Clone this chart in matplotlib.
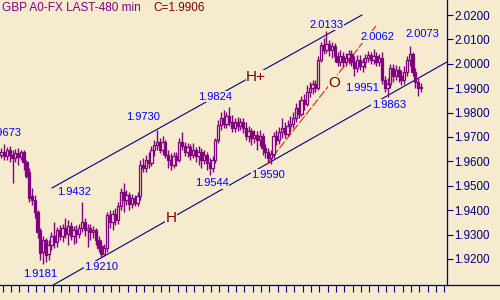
import matplotlib
matplotlib.use('Agg')
import matplotlib.pyplot as plt
from matplotlib.patches import Rectangle
from matplotlib.lines import Line2D

plt.rcParams['font.family'] = ['Liberation Sans', 'DejaVu Sans']

# Colours of the old charting package
bg = '#f6eacf'
purple = '#800080'
navy = '#000080'
blue = '#0000ff'
darkred = '#800000'

title = 'GBP A0-FX LAST-480 min'
last_txt = 'C=1.9906'

# 480 min bars, oldest first
opens = [1.9627, 1.9639, 1.9622, 1.9647, 1.9627, 1.9614, 1.9635, 1.9618, 1.9639, 1.9598,
         1.9557, 1.9458, 1.9442, 1.9393, 1.9319, 1.9229, 1.9278, 1.9221, 1.9258, 1.9294,
         1.9270, 1.9319, 1.9294, 1.9327, 1.9303, 1.9335, 1.9294, 1.9319, 1.9303, 1.9327,
         1.9352, 1.9319, 1.9327, 1.9311, 1.9319, 1.9278, 1.9253, 1.9221, 1.9245, 1.9381,
         1.9352, 1.9385, 1.9360, 1.9417, 1.9475, 1.9442, 1.9462, 1.9426, 1.9450, 1.9430,
         1.9458, 1.9585, 1.9573, 1.9606, 1.9594, 1.9647, 1.9667, 1.9680, 1.9647, 1.9680,
         1.9627, 1.9606, 1.9585, 1.9622, 1.9606, 1.9680, 1.9663, 1.9639, 1.9659, 1.9627,
         1.9647, 1.9622, 1.9639, 1.9606, 1.9627, 1.9594, 1.9573, 1.9606, 1.9688, 1.9750,
         1.9778, 1.9754, 1.9786, 1.9762, 1.9737, 1.9762, 1.9745, 1.9762, 1.9737, 1.9704,
         1.9725, 1.9696, 1.9709, 1.9688, 1.9704, 1.9655, 1.9639, 1.9614, 1.9631, 1.9704,
         1.9688, 1.9721, 1.9737, 1.9713, 1.9745, 1.9754, 1.9778, 1.9819, 1.9795, 1.9852,
         1.9836, 1.9885, 1.9901, 1.9918, 1.9901, 2.0016, 2.0078, 2.0057, 2.0082, 2.0057,
         2.0073, 2.0032, 2.0008, 2.0032, 2.0008, 2.0024, 2.0041, 2.0008, 1.9983, 2.0016,
         1.9991, 2.0008, 2.0024, 2.0036, 2.0016, 2.0032, 2.0008, 2.0024, 1.9934, 1.9901,
         1.9918, 1.9983, 1.9950, 1.9975, 1.9950, 1.9934, 1.9967, 2.0016, 2.0041, 1.9967,
         1.9926, 1.9901]
highs = [1.9655, 1.9673, 1.9659, 1.9663, 1.9647, 1.9651, 1.9655, 1.9647, 1.9647, 1.9606,
         1.9573, 1.9491, 1.9462, 1.9401, 1.9327, 1.9294, 1.9286, 1.9278, 1.9311, 1.9352,
         1.9331, 1.9340, 1.9344, 1.9368, 1.9360, 1.9352, 1.9335, 1.9340, 1.9344, 1.9432,
         1.9368, 1.9344, 1.9344, 1.9335, 1.9327, 1.9294, 1.9278, 1.9262, 1.9393, 1.9401,
         1.9401, 1.9409, 1.9434, 1.9491, 1.9512, 1.9483, 1.9475, 1.9466, 1.9462, 1.9475,
         1.9606, 1.9614, 1.9627, 1.9639, 1.9663, 1.9688, 1.9730, 1.9696, 1.9704, 1.9688,
         1.9647, 1.9635, 1.9639, 1.9639, 1.9696, 1.9721, 1.9680, 1.9676, 1.9672, 1.9676,
         1.9659, 1.9663, 1.9655, 1.9647, 1.9639, 1.9614, 1.9622, 1.9696, 1.9770, 1.9803,
         1.9811, 1.9803, 1.9824, 1.9791, 1.9778, 1.9782, 1.9778, 1.9778, 1.9762, 1.9745,
         1.9737, 1.9729, 1.9725, 1.9729, 1.9717, 1.9672, 1.9655, 1.9647, 1.9721, 1.9729,
         1.9741, 1.9778, 1.9762, 1.9770, 1.9786, 1.9803, 1.9840, 1.9852, 1.9868, 1.9877,
         1.9913, 1.9926, 1.9934, 1.9934, 2.0032, 2.0090, 2.0106, 2.0133, 2.0098, 2.0090,
         2.0086, 2.0049, 2.0057, 2.0049, 2.0045, 2.0057, 2.0057, 2.0032, 2.0036, 2.0036,
         2.0024, 2.0041, 2.0053, 2.0049, 2.0062, 2.0049, 2.0041, 2.0049, 1.9950, 1.9942,
         2.0000, 2.0000, 1.9996, 1.9991, 1.9975, 1.9991, 2.0032, 2.0073, 2.0049, 1.9983,
         1.9942, 1.9922]
lows = [1.9614, 1.9606, 1.9606, 1.9598, 1.9512, 1.9598, 1.9585, 1.9606, 1.9565, 1.9532,
        1.9434, 1.9422, 1.9368, 1.9286, 1.9196, 1.9181, 1.9188, 1.9196, 1.9237, 1.9245,
        1.9249, 1.9278, 1.9270, 1.9286, 1.9258, 1.9278, 1.9262, 1.9266, 1.9286, 1.9311,
        1.9294, 1.9249, 1.9278, 1.9286, 1.9258, 1.9229, 1.9210, 1.9212, 1.9229, 1.9327,
        1.9319, 1.9340, 1.9344, 1.9401, 1.9393, 1.9422, 1.9401, 1.9409, 1.9417, 1.9417,
        1.9442, 1.9557, 1.9557, 1.9573, 1.9581, 1.9622, 1.9647, 1.9635, 1.9627, 1.9614,
        1.9573, 1.9565, 1.9573, 1.9581, 1.9598, 1.9647, 1.9622, 1.9618, 1.9606, 1.9614,
        1.9598, 1.9585, 1.9573, 1.9590, 1.9565, 1.9544, 1.9557, 1.9594, 1.9676, 1.9729,
        1.9737, 1.9737, 1.9745, 1.9721, 1.9721, 1.9725, 1.9729, 1.9717, 1.9688, 1.9680,
        1.9667, 1.9676, 1.9647, 1.9663, 1.9627, 1.9614, 1.9598, 1.9590, 1.9614, 1.9667,
        1.9672, 1.9696, 1.9696, 1.9704, 1.9721, 1.9737, 1.9762, 1.9778, 1.9786, 1.9811,
        1.9827, 1.9864, 1.9877, 1.9885, 1.9893, 2.0008, 2.0041, 2.0045, 2.0032, 2.0024,
        2.0008, 1.9991, 1.9991, 1.9987, 1.9991, 2.0000, 1.9991, 1.9951, 1.9967, 1.9975,
        1.9967, 1.9983, 2.0008, 2.0000, 2.0000, 1.9991, 1.9991, 1.9918, 1.9885, 1.9863,
        1.9901, 1.9926, 1.9934, 1.9926, 1.9913, 1.9918, 1.9950, 1.9991, 1.9950, 1.9901,
        1.9868, 1.9885]
closes = [1.9639, 1.9622, 1.9647, 1.9627, 1.9614, 1.9635, 1.9618, 1.9639, 1.9598, 1.9540,
          1.9450, 1.9442, 1.9393, 1.9311, 1.9225, 1.9278, 1.9217, 1.9258, 1.9294, 1.9270,
          1.9319, 1.9294, 1.9327, 1.9303, 1.9335, 1.9294, 1.9319, 1.9303, 1.9327, 1.9352,
          1.9319, 1.9327, 1.9311, 1.9319, 1.9278, 1.9245, 1.9221, 1.9245, 1.9381, 1.9352,
          1.9385, 1.9360, 1.9417, 1.9475, 1.9442, 1.9462, 1.9426, 1.9450, 1.9430, 1.9458,
          1.9585, 1.9573, 1.9606, 1.9594, 1.9647, 1.9667, 1.9680, 1.9647, 1.9680, 1.9627,
          1.9606, 1.9585, 1.9622, 1.9606, 1.9680, 1.9663, 1.9639, 1.9659, 1.9627, 1.9647,
          1.9622, 1.9639, 1.9606, 1.9627, 1.9594, 1.9573, 1.9606, 1.9688, 1.9750, 1.9778,
          1.9754, 1.9786, 1.9762, 1.9737, 1.9762, 1.9745, 1.9762, 1.9737, 1.9704, 1.9725,
          1.9696, 1.9709, 1.9688, 1.9704, 1.9655, 1.9639, 1.9614, 1.9631, 1.9704, 1.9688,
          1.9721, 1.9737, 1.9713, 1.9745, 1.9754, 1.9778, 1.9819, 1.9795, 1.9852, 1.9836,
          1.9885, 1.9901, 1.9918, 1.9901, 2.0016, 2.0078, 2.0057, 2.0082, 2.0057, 2.0073,
          2.0032, 2.0008, 2.0032, 2.0008, 2.0024, 2.0041, 2.0008, 1.9983, 2.0016, 1.9991,
          2.0008, 2.0024, 2.0036, 2.0016, 2.0032, 2.0008, 2.0024, 1.9934, 1.9901, 1.9918,
          1.9983, 1.9950, 1.9975, 1.9950, 1.9934, 1.9967, 2.0016, 2.0041, 1.9967, 1.9926,
          1.9901, 1.9906]

# Drawn lines, end points as (bar, price)
upper_x = [18.2, 129.8]
upper_y = [1.9491, 2.0200]
lower_x = [18.6, 160.3]
lower_y = [1.9093, 2.0007]
trend_x = [95.3, 134.8]
trend_y = [1.9585, 2.0155]

# Swing point labels (text, bar, price)
swing_txt = ['1.9673', '1.9730', '1.9824', '2.0133', '2.0062', '2.0073', '1.9951',
             '1.9863', '1.9432', '1.9181', '1.9210', '1.9544', '1.9590']
swing_x = [1.1, 51.0, 76.9, 116.9, 135.2, 151.4, 129.8, 139.5, 26.1, 14.1, 35.9, 75.8, 96.0]
swing_y = [1.9717, 1.9782, 1.9865, 2.0160, 2.0109, 2.0121, 1.9902, 1.9832, 1.9474,
           1.9139, 1.9169, 1.9511, 1.9545]

# Wave marks
mark_txt = ['H', 'H+', 'O']
mark_x = [61.1, 91.7, 119.7]
mark_y = [1.9368, 1.9946, 1.9922]

yticks = [1.92, 1.93, 1.94, 1.95, 1.96, 1.97, 1.98, 1.99, 2.00, 2.01, 2.02]

fig = plt.figure(figsize=(5, 3), dpi=100, facecolor=bg)
ax = fig.add_axes([0, 0.05, 446.7 / 500, 0.95])
ax.set_facecolor(bg)
ax.set_xlim(-0.5, 160.3)
ax.set_ylim(1.90934, 2.02615)

# candles: hollow when up, filled when down
w = 0.85
for i in range(len(closes)):
    o, h, l, c = opens[i], highs[i], lows[i], closes[i]
    ax.vlines(i, l, h, color=purple, lw=1.0, zorder=3)
    if c >= o:
        ax.add_patch(Rectangle((i - w / 2, o), w, c - o, facecolor=bg,
                               edgecolor=purple, lw=0.9, zorder=4))
    else:
        ax.add_patch(Rectangle((i - w / 2, c), w, o - c, facecolor=purple,
                               edgecolor=purple, lw=0.9, zorder=4))

ax.plot(upper_x, upper_y, color=navy, lw=0.8, zorder=2)
ax.plot(lower_x, lower_y, color=navy, lw=0.8, zorder=2)
ax.plot(trend_x, trend_y, color='red', lw=0.7, ls=(0, (9, 2)), zorder=2)

for t, x, y in zip(swing_txt, swing_x, swing_y):
    ax.text(x, y, t, color=blue, fontsize=8, ha='center', va='center', zorder=6,
            bbox=dict(facecolor=bg, edgecolor='none', pad=0.3))
for t, x, y in zip(mark_txt, mark_x, mark_y):
    ax.text(x, y, t, color=darkred, fontsize=11, ha='center', va='center', zorder=6,
            bbox=dict(facecolor=bg, edgecolor='none', pad=0.3))

# axes: price scale on the right, day ticks along the bottom
for s in ['left', 'top', 'bottom']:
    ax.spines[s].set_visible(False)
ax.spines['right'].set_color(navy)
ax.spines['right'].set_linewidth(0.9)
ax.yaxis.tick_right()
ax.set_yticks(yticks)
ax.set_yticklabels(['%.4f' % v for v in yticks])
ax.tick_params(axis='y', direction='out', length=4.3, width=0.8, color=navy,
               labelcolor=navy, labelsize=8.4, pad=1)
ax.set_xticks([0.5 + 3 * k for k in range(54)])
ax.tick_params(axis='x', direction='out', length=5, width=0.8, color=navy,
               labelbottom=False)
fig.add_artist(Line2D([0, 1], [0.05, 0.05], color=navy, lw=0.9))

fig.text(2 / 500, 1 - 8 / 300, title, color=purple, fontsize=8.5, va='center')
fig.text(153 / 500, 1 - 8 / 300, last_txt, color=darkred, fontsize=8.5, va='center')

fig.savefig('out.png', dpi=100, facecolor=bg)
